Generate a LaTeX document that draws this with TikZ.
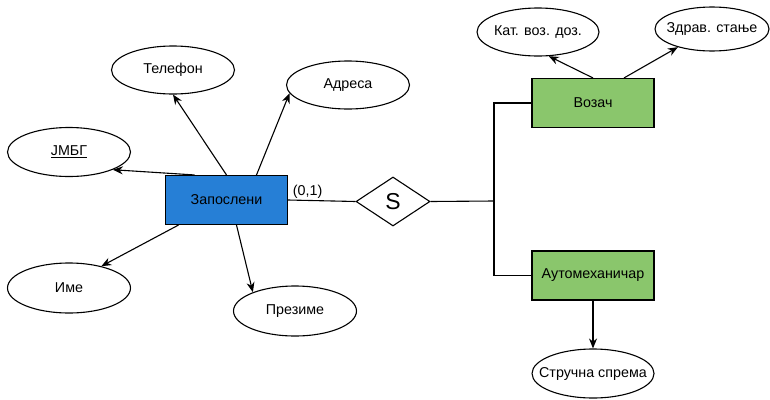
\documentclass[tikz,border=0pt]{standalone}
\usepackage{fontspec}
\setmainfont{Liberation Sans}
\usetikzlibrary{positioning,shapes.geometric,arrows.meta}

\definecolor{entblue}{RGB}{38,127,214}
\definecolor{entgreen}{RGB}{138,198,108}

\begin{document}
\begin{tikzpicture}[x=1pt,y=-1pt,line width=1.1pt,
  >={Stealth[length=10pt,width=8pt]},
  font=\fontsize{14.3}{17}\selectfont,
  entity/.style={draw,rectangle,minimum width=122pt,minimum height=49pt,inner sep=0pt},
  attr/.style={draw,ellipse,minimum width=123pt,minimum height=48pt,inner sep=0pt},
  rel/.style={draw,diamond,minimum width=74pt,minimum height=49pt,inner sep=0pt}]

\useasboundingbox (0,0) rectangle (770,399);

\node[entity,fill=entblue] (zap) at (226.5,200) {Запослени};

\node[attr] (tel) at (173,70) {Телефон};
\node[attr] (adr) at (348,85) {Адреса};
\node[attr,minimum height=49pt] (jmbg) at (69,152) {\underline{ЈМБГ}};
\node[attr,minimum height=50pt] (ime) at (69,288) {Име};
\node[attr,minimum height=50pt] (prez) at (295,311) {Презиме};

\path[->]
(zap.north) edge (tel.south)
([xshift=30pt]zap.north) edge (adr.188)
([xshift=-32pt]zap.north) edge (jmbg.338)
([xshift=-48pt]zap.south) edge (ime.34)
([xshift=10pt]zap.south) edge (prez.156);

\node[rel,font=\fontsize{23}{25}\selectfont] (s) at (393,201.5) {S};

\draw (zap.east) -- node[pos=0.29,above,inner sep=1pt] {(0,1)} (s.west);

\node[entity,fill=entgreen] (voz) at (593,103) {Возач};
\node[entity,fill=entgreen] (aut) at (593,275.5) {Аутомеханичар};

\coordinate (j) at (494,201);
\draw (s.east) -- (j);
\draw (voz.west) -| (j);
\draw (aut.west) -| (j);

\node[attr,minimum width=122pt] (kat) at (538,32) {\makebox[0pt]{Кат. воз. доз.}};
\node[attr,minimum width=114pt,minimum height=44pt] (zdr) at (712,29) {\makebox[0pt]{Здрав. стање}};
\node[attr,minimum width=122pt,minimum height=49pt] (str) at (593,373.5) {\makebox[0pt]{Стручна спрема}};

\path[->]
(voz.north) edge (kat.294)
([xshift=31pt]voz.north) edge (zdr.208)
(aut.south) edge (str.north);

\end{tikzpicture}
\end{document}
